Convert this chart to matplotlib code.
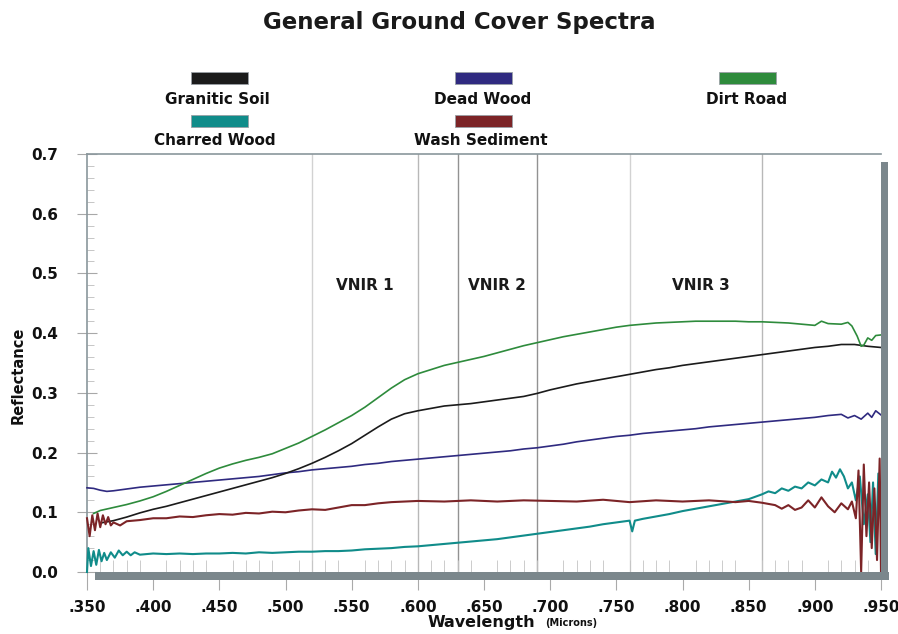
import matplotlib
matplotlib.use("Agg")
import matplotlib.pyplot as plt
from matplotlib.patches import Rectangle

plt.rcParams['font.family'] = ['DejaVu Sans']

# ---------------- data ----------------
title = "General Ground Cover Spectra"
series_names = ["Granitic Soil", "Dead Wood", "Dirt Road", "Charred Wood", "Wash Sediment"]
series_colors = ["#1b1b1b", "#2f2a80", "#2e8b3c", "#108c8a", "#7c2427"]

soil_x = [0.36, 0.37, 0.38, 0.39, 0.40, 0.41, 0.42, 0.43, 0.44, 0.45, 0.46, 0.47, 0.48, 0.49, 0.50,
          0.51, 0.52, 0.53, 0.54, 0.55, 0.56, 0.57, 0.58, 0.59, 0.60, 0.61, 0.62, 0.63, 0.64, 0.65,
          0.66, 0.67, 0.68, 0.69, 0.70, 0.71, 0.72, 0.73, 0.74, 0.75, 0.76, 0.77, 0.78, 0.79, 0.80,
          0.81, 0.82, 0.83, 0.84, 0.85, 0.86, 0.87, 0.88, 0.89, 0.90, 0.91, 0.92, 0.93, 0.94, 0.95]
soil_y = [0.082, 0.086, 0.092, 0.099, 0.105, 0.110, 0.116, 0.122, 0.128, 0.134, 0.140, 0.146, 0.152, 0.158, 0.165,
          0.173, 0.182, 0.192, 0.203, 0.215, 0.229, 0.243, 0.256, 0.265, 0.270, 0.274, 0.278, 0.280, 0.282, 0.285,
          0.288, 0.291, 0.294, 0.299, 0.305, 0.310, 0.315, 0.319, 0.323, 0.327, 0.331, 0.335, 0.339, 0.342, 0.346,
          0.349, 0.352, 0.355, 0.358, 0.361, 0.364, 0.367, 0.370, 0.373, 0.376, 0.378, 0.381, 0.381, 0.378, 0.376]

deadwood_x = [0.350, 0.355, 0.360, 0.365, 0.37, 0.38, 0.39, 0.40, 0.41, 0.42, 0.43, 0.44, 0.45, 0.46, 0.47,
              0.48, 0.49, 0.50, 0.51, 0.52, 0.53, 0.54, 0.55, 0.56, 0.57, 0.58, 0.59, 0.60, 0.61, 0.62,
              0.63, 0.64, 0.65, 0.66, 0.67, 0.68, 0.69, 0.70, 0.71, 0.72, 0.73, 0.74, 0.75, 0.76, 0.77,
              0.78, 0.79, 0.80, 0.81, 0.82, 0.83, 0.84, 0.85, 0.86, 0.87, 0.88, 0.89, 0.90, 0.91, 0.92,
              0.925, 0.93, 0.935, 0.94, 0.943, 0.946, 0.95]
deadwood_y = [0.141, 0.140, 0.137, 0.135, 0.136, 0.139, 0.142, 0.144, 0.146, 0.148, 0.150, 0.152, 0.154, 0.156, 0.158,
              0.160, 0.163, 0.166, 0.168, 0.171, 0.173, 0.175, 0.177, 0.180, 0.182, 0.185, 0.187, 0.189, 0.191, 0.193,
              0.195, 0.197, 0.199, 0.201, 0.203, 0.206, 0.208, 0.211, 0.214, 0.218, 0.221, 0.224, 0.227, 0.229, 0.232,
              0.234, 0.236, 0.238, 0.240, 0.243, 0.245, 0.247, 0.249, 0.251, 0.253, 0.255, 0.257, 0.259, 0.262, 0.264,
              0.258, 0.262, 0.256, 0.266, 0.259, 0.270, 0.263]

road_x = [0.355, 0.36, 0.37, 0.38, 0.39, 0.40, 0.41, 0.42, 0.43, 0.44, 0.45, 0.46, 0.47, 0.48, 0.49,
          0.50, 0.51, 0.52, 0.53, 0.54, 0.55, 0.56, 0.57, 0.58, 0.59, 0.60, 0.61, 0.62, 0.63, 0.64,
          0.65, 0.66, 0.67, 0.68, 0.69, 0.70, 0.71, 0.72, 0.73, 0.74, 0.75, 0.76, 0.77, 0.78, 0.79,
          0.80, 0.81, 0.82, 0.83, 0.84, 0.85, 0.86, 0.87, 0.88, 0.89, 0.90, 0.905, 0.91, 0.92, 0.925,
          0.928, 0.932, 0.935, 0.937, 0.94, 0.943, 0.946, 0.95]
road_y = [0.098, 0.103, 0.108, 0.113, 0.119, 0.126, 0.135, 0.145, 0.155, 0.165, 0.174, 0.181, 0.187, 0.192, 0.198,
          0.207, 0.216, 0.227, 0.238, 0.250, 0.262, 0.276, 0.292, 0.308, 0.322, 0.332, 0.339, 0.346, 0.351, 0.356,
          0.361, 0.367, 0.373, 0.379, 0.384, 0.389, 0.394, 0.398, 0.402, 0.406, 0.410, 0.413, 0.415, 0.417, 0.418,
          0.419, 0.420, 0.420, 0.420, 0.420, 0.419, 0.419, 0.418, 0.417, 0.415, 0.413, 0.420, 0.416, 0.415, 0.418,
          0.412, 0.395, 0.378, 0.380, 0.392, 0.388, 0.396, 0.397]

charred_x = [0.350, 0.351, 0.353, 0.355, 0.357, 0.359, 0.361, 0.363, 0.365, 0.368, 0.371, 0.374, 0.377, 0.380,
             0.383, 0.386, 0.39, 0.40, 0.41, 0.42, 0.43, 0.44, 0.45, 0.46, 0.47, 0.48, 0.49, 0.50, 0.51,
             0.52, 0.53, 0.54, 0.55, 0.56, 0.57, 0.58, 0.59, 0.60, 0.61, 0.62, 0.63, 0.64, 0.65, 0.66,
             0.67, 0.68, 0.69, 0.70, 0.71, 0.72, 0.73, 0.74, 0.75, 0.76, 0.762, 0.764, 0.77, 0.78, 0.79,
             0.80, 0.81, 0.82, 0.83, 0.84, 0.85, 0.86, 0.865, 0.87, 0.875, 0.88, 0.885, 0.89, 0.895, 0.90,
             0.905, 0.91, 0.913, 0.916, 0.919, 0.922, 0.925, 0.928, 0.931, 0.934, 0.937, 0.940, 0.942, 0.944,
             0.946, 0.948, 0.950]
charred_y = [0.000, 0.040, 0.010, 0.035, 0.012, 0.037, 0.018, 0.032, 0.020, 0.033, 0.024, 0.036, 0.028, 0.034,
             0.028, 0.033, 0.029, 0.031, 0.030, 0.031, 0.030, 0.031, 0.031, 0.032, 0.031, 0.033, 0.032, 0.033, 0.034,
             0.034, 0.035, 0.035, 0.036, 0.038, 0.039, 0.040, 0.042, 0.043, 0.045, 0.047, 0.049, 0.051, 0.053, 0.055,
             0.058, 0.061, 0.064, 0.067, 0.070, 0.073, 0.076, 0.080, 0.083, 0.086, 0.068, 0.086, 0.089, 0.093, 0.097,
             0.102, 0.106, 0.110, 0.114, 0.118, 0.122, 0.130, 0.135, 0.132, 0.140, 0.136, 0.143, 0.140, 0.150, 0.145,
             0.155, 0.150, 0.168, 0.158, 0.172, 0.160, 0.140, 0.150, 0.120, 0.160, 0.080, 0.130, 0.050, 0.150,
             0.030, 0.165, 0.090]

wash_x = [0.350, 0.352, 0.354, 0.356, 0.358, 0.360, 0.362, 0.364, 0.366, 0.368, 0.370, 0.375, 0.38, 0.39,
          0.40, 0.41, 0.42, 0.43, 0.44, 0.45, 0.46, 0.47, 0.48, 0.49, 0.50, 0.51, 0.52, 0.53, 0.54,
          0.55, 0.56, 0.57, 0.58, 0.59, 0.60, 0.62, 0.64, 0.66, 0.68, 0.70, 0.72, 0.74, 0.76, 0.78,
          0.80, 0.82, 0.84, 0.85, 0.86, 0.87, 0.875, 0.88, 0.885, 0.89, 0.895, 0.90, 0.905, 0.91, 0.915,
          0.92, 0.925, 0.928, 0.931, 0.933, 0.935, 0.937, 0.939, 0.941, 0.943, 0.945, 0.947, 0.949, 0.950]
wash_y = [0.090, 0.060, 0.095, 0.070, 0.098, 0.075, 0.095, 0.080, 0.092, 0.078, 0.083, 0.078, 0.085, 0.087,
          0.090, 0.090, 0.093, 0.092, 0.095, 0.097, 0.096, 0.099, 0.098, 0.101, 0.100, 0.103, 0.105, 0.104, 0.108,
          0.112, 0.112, 0.115, 0.117, 0.118, 0.119, 0.118, 0.120, 0.118, 0.120, 0.119, 0.118, 0.121, 0.117, 0.120,
          0.118, 0.120, 0.117, 0.119, 0.116, 0.112, 0.106, 0.112, 0.104, 0.108, 0.120, 0.108, 0.125, 0.110, 0.100,
          0.115, 0.105, 0.118, 0.090, 0.170, 0.000, 0.180, 0.060, 0.150, 0.040, 0.140, 0.020, 0.190, 0.000]

band_lines = [0.52, 0.60, 0.63, 0.69, 0.76, 0.86]
band_line_colors = ["#d2d2d2", "#b8b8b8", "#929292", "#929292", "#d2d2d2", "#b8b8b8"]
band_labels = ["VNIR 1", "VNIR 2", "VNIR 3"]
band_label_x = [0.560, 0.660, 0.814]
band_label_y = 0.480

x_ticks = [0.35, 0.40, 0.45, 0.50, 0.55, 0.60, 0.65, 0.70, 0.75, 0.80, 0.85, 0.90, 0.95]
x_tick_labels = [".350", ".400", ".450", ".500", ".550", ".600", ".650", ".700", ".750", ".800", ".850", ".900", ".950"]
y_ticks = [0.0, 0.1, 0.2, 0.3, 0.4, 0.5, 0.6, 0.7]
y_tick_labels = ["0.0", "0.1", "0.2", "0.3", "0.4", "0.5", "0.6", "0.7"]

# ---------------- figure ----------------
W, H = 898, 634
fig = plt.figure(figsize=(W / 100, H / 100), dpi=100)
ax = fig.add_axes([87 / W, 1 - 572 / H, (881 - 87) / W, (572 - 154) / H])
ax.set_xlim(0.35, 0.95)
ax.set_ylim(0.0, 0.7)

frame_col = "#8a979c"
for s in ["right", "bottom"]:
    ax.spines[s].set_visible(False)
for s in ["top", "left"]:
    ax.spines[s].set_color(frame_col)
    ax.spines[s].set_linewidth(1.2)

# band boundaries
for bx, bc in zip(band_lines, band_line_colors):
    ax.axvline(bx, color=bc, lw=1.0, zorder=1)

# series
xs = [soil_x, deadwood_x, road_x, charred_x, wash_x]
ys = [soil_y, deadwood_y, road_y, charred_y, wash_y]
order = [1, 0, 2, 3, 4]
for i in order:
    lw = 1.5 if i >= 3 else 1.2
    ax.plot(xs[i], ys[i], color=series_colors[i], lw=lw, zorder=3, clip_on=False)

# shadow bars (bottom and right)
shadow = "#7b878c"
ax.add_patch(Rectangle((0.01, -0.019), 1.0, 0.019, transform=ax.transAxes,
                       color=shadow, clip_on=False, zorder=6, lw=0))
ax.add_patch(Rectangle((1.0, -0.019), 0.009, 1.0, transform=ax.transAxes,
                       color=shadow, clip_on=False, zorder=6, lw=0))

# ticks
ax.set_xticks(x_ticks)
ax.set_xticklabels(x_tick_labels, fontsize=11, fontweight="bold", color="#111111")
ax.set_yticks(y_ticks)
ax.set_yticklabels(y_tick_labels, fontsize=11, fontweight="bold", color="#111111")
ax.set_xticks([0.35 + 0.01 * k for k in range(61)], minor=True)
ax.set_yticks([0.02 * k for k in range(36)], minor=True)
ax.tick_params(axis="x", which="major", direction="out", length=13, width=0.8,
               color="#aaaaaa", pad=7)
ax.tick_params(axis="x", which="minor", direction="in", length=9, width=0.6,
               color="#c4c4c4")
ax.tick_params(axis="y", which="major", direction="inout", length=14, width=0.8,
               color="#a8a8a8", pad=14)
ax.tick_params(axis="y", which="minor", direction="in", length=5, width=0.6,
               color="#bdbdbd")

# band labels
for lbl, lx in zip(band_labels, band_label_x):
    ax.text(lx, band_label_y, lbl, ha="center", va="center", fontsize=11,
            fontweight="bold", color="#1a1a1a")

# axis labels
fig.text(18 / W, 1 - 375 / H, "Reflectance", rotation=90, ha="center", va="center",
         fontsize=10.5, fontweight="bold", color="#111111")
fig.text(481 / W, 1 - 623 / H, "Wavelength", ha="center", va="center",
         fontsize=11.5, fontweight="bold", color="#111111")
fig.text(545 / W, 1 - 623 / H, "(Microns)", ha="left", va="center",
         fontsize=7, fontweight="bold", color="#111111")

# title
fig.text(459 / W, 1 - 22 / H, title, ha="center", va="center", fontsize=16.5,
         fontweight="bold", color="#1a1a1a")

# legend (custom layout: swatch above label)
leg_swatch_x = [191, 455, 719, 191, 455]
leg_swatch_y = [72, 72, 72, 115, 115]
leg_text_x = [217, 483, 747, 215, 481]
leg_text_y = [99, 99, 99, 141, 141]
for i, name in enumerate(series_names):
    fig.patches.append(Rectangle((leg_swatch_x[i] / W, 1 - (leg_swatch_y[i] + 12) / H),
                                 57 / W, 12 / H, transform=fig.transFigure,
                                 facecolor=series_colors[i], edgecolor="#9aa0a6", lw=0.6))
    fig.text(leg_text_x[i] / W, 1 - leg_text_y[i] / H, name, ha="center", va="center",
             fontsize=11, fontweight="bold", color="#111111")

fig.savefig("out.png", dpi=100, facecolor="white")
